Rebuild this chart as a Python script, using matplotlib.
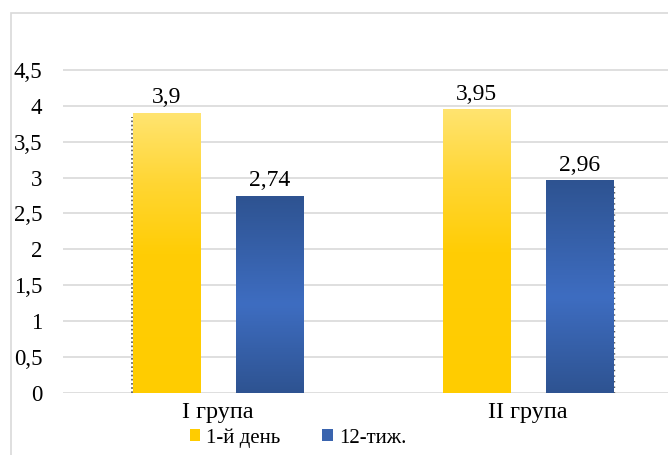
import numpy as np
import matplotlib
matplotlib.use("Agg")
import matplotlib.pyplot as plt
from matplotlib.colors import LinearSegmentedColormap
from matplotlib.patches import Rectangle

# Data
groups = ["I група", "II група"]
series_names = ["1-й день", "12-тиж."]
day1 = [3.9, 3.95]
week12 = [2.74, 2.96]
yticks = [0, 0.5, 1, 1.5, 2, 2.5, 3, 3.5, 4, 4.5]
ytick_labels = ["0", "0,5", "1", "1,5", "2", "2,5", "3", "3,5", "4", "4,5"]

W, H = 668, 455
plt.rcParams["font.family"] = ["Liberation Serif", "DejaVu Serif"]

fig = plt.figure(figsize=(W / 100, H / 100), dpi=100)

# Outer chart frame (runs past the right and bottom edges)
frame = Rectangle((11 / W, -0.1), 1.2, (H - 13) / H + 0.1, transform=fig.transFigure,
                  fill=False, edgecolor="#D9D9D9", linewidth=1.2, zorder=0)
fig.patches.append(frame)

px_per_unit = (392.7 - 70) / 4.5
ytop = 4.7
left_px, width_px = 63, 620
bottom_px = 392.7
ax = fig.add_axes([left_px / W, (H - bottom_px) / H, width_px / W, ytop * px_per_unit / H])
ax.set_xlim(-0.5, 1.5)
ax.set_ylim(0, ytop)
for s in ax.spines.values():
    s.set_visible(False)
ax.patch.set_alpha(0)

ax.set_yticks(yticks)
ax.set_yticklabels(ytick_labels, fontsize=16.5)
ax.tick_params(axis="y", length=0, pad=15)
ax.yaxis.grid(True, color="#D9D9D9", linewidth=1.2)
ax.set_axisbelow(True)

x = np.arange(len(groups))
ax.set_xticks(x)
ax.set_xticklabels(groups, fontsize=17.5)
ax.tick_params(axis="x", length=0, pad=7)

bw = 0.218
off = 0.166

yellow_cmap = LinearSegmentedColormap.from_list(
    "yel", [(0.0, "#FFCC00"), (0.5, "#FFCD05"), (0.75, "#FFD633"), (1.0, "#FFE470")])
blue_cmap = LinearSegmentedColormap.from_list(
    "blu", [(0.0, "#2E5391"), (0.45, "#3E6DC1"), (1.0, "#2E5391")])


def gradient_bars(xs, vals, cmap, label):
    bars = ax.bar(xs, vals, width=bw, color="none", edgecolor="none", label=label, zorder=2)
    grad = np.linspace(0, 1, 256).reshape(-1, 1)
    for b in bars:
        x0, y0 = b.get_x(), b.get_y()
        w, h = b.get_width(), b.get_height()
        im = ax.imshow(grad, extent=[x0, x0 + w, y0, y0 + h], origin="lower",
                       cmap=cmap, aspect="auto", zorder=2, interpolation="bicubic")
        im.set_clip_path(b)
    return bars


b1 = gradient_bars(x - off, day1, yellow_cmap, series_names[0])
b2 = gradient_bars(x + off, week12, blue_cmap, series_names[1])
ax.set_xlim(-0.5, 1.5)
ax.set_ylim(0, ytop)

# Faint dotted shadow edges
ax.plot([x[0] - off - bw / 2 - 0.004] * 2, [0, day1[0] - 0.05], color="#555555",
        linestyle=(0, (1, 1.5)), linewidth=1.2, zorder=1.5)
ax.plot([x[1] + off + bw / 2 + 0.003] * 2, [0, week12[1] - 0.05], color="#555555",
        linestyle=(0, (1, 3)), linewidth=1.0, zorder=1.5)


def fmt(v):
    return f"{v:g}".replace(".", ",")


for bars, vals in ((b1, day1), (b2, week12)):
    for b, v in zip(bars, vals):
        ax.annotate(fmt(v), (b.get_x() + b.get_width() / 2, v), xytext=(0, 3.5),
                    textcoords="offset points", ha="center", va="bottom", fontsize=17)

# Legend with solid-colour squares
handles = [Rectangle((0, 0), 1, 1, facecolor="#FFCC00", edgecolor="none"),
           Rectangle((0, 0), 1, 1, facecolor="#3A64AE", edgecolor="none")]
fig.legend(handles, series_names, loc="center", bbox_to_anchor=(298 / W, 1 - 438 / H),
           ncol=2, frameon=False, fontsize=15, handlelength=0.5, handleheight=0.5,
           handletextpad=0.3, columnspacing=2.0, borderpad=0)

fig.savefig("out.png", dpi=100)
